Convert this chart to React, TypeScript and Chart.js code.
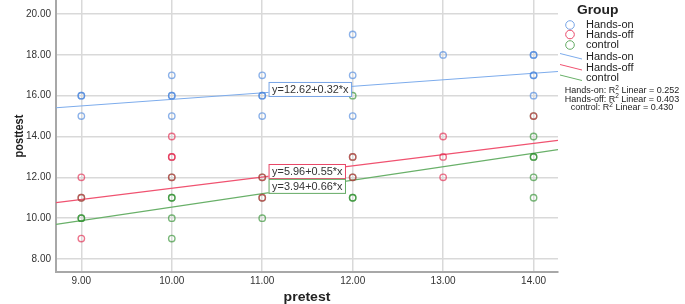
import React, { useEffect, useRef } from "react";
import { Chart, registerables } from "chart.js";

Chart.register(...registerables);

// ---- data ----
const xTicks = [9, 10, 11, 12, 13, 14];
const yTicks = [8, 10, 12, 14, 16, 18, 20];
const groups = ["Hands-on", "Hands-off", "control"];

const handsOnPts: [number, number][] = [
  [9, 16], [9, 16], [9, 15],
  [10, 17], [10, 16], [10, 16], [10, 15],
  [11, 17], [11, 16], [11, 16], [11, 15],
  [12, 19], [12, 17], [12, 15],
  [13, 18],
  [14, 18], [14, 18], [14, 17], [14, 17], [14, 16],
];
const handsOffPts: [number, number][] = [
  [9, 12], [9, 11], [9, 9],
  [10, 14], [10, 13], [10, 13], [10, 12],
  [11, 12], [11, 11],
  [12, 13], [12, 12],
  [13, 14], [13, 13], [13, 12],
  [14, 15],
];
const controlPts: [number, number][] = [
  [9, 11], [9, 10], [9, 10],
  [10, 12], [10, 11], [10, 11], [10, 10], [10, 9],
  [11, 12], [11, 11], [11, 10],
  [12, 16], [12, 13], [12, 12], [12, 11], [12, 11],
  [14, 15], [14, 14], [14, 13], [14, 13], [14, 12], [14, 11],
];
const intercepts = [12.62, 5.96, 3.94];
const slopes = [0.32, 0.55, 0.66];
const r2Values = ["0.252", "0.403", "0.430"];
const fitLabels = ["y=12.62+0.32*x", "y=5.96+0.55*x", "y=3.94+0.66*x"];
const labelAnchorX = 11.07;
const labelAnchorY = [16.33, 12.31, 11.58];

const X_MIN = 8.72;
const X_MAX = 14.27;
const Y_MIN = 7.36;
const Y_MAX = 20.69;

// ---- styles ----
const pointColors = ["rgba(70,130,220,0.62)", "rgba(225,30,70,0.62)", "rgba(40,140,40,0.62)"];
const lineColors = ["rgb(125,172,236)", "rgb(240,82,112)", "rgb(105,176,105)"];
const solidColors = ["rgb(120,165,230)", "rgb(232,72,104)", "rgb(100,170,100)"];
const FONT = "'Liberation Sans', Arial, sans-serif";

function stretchText(ctx: CanvasRenderingContext2D, t: string, x: number, y: number, sx: number) {
  ctx.save();
  ctx.translate(x, y);
  ctx.scale(sx, 1);
  ctx.fillText(t, 0, 0);
  ctx.restore();
}

const overlayPlugin = {
  id: "overlay",
  afterDraw(chart: any) {
    const ctx = chart.ctx as CanvasRenderingContext2D;
    const xs = chart.scales.x;
    const ys = chart.scales.y;
    const area = chart.chartArea;
    ctx.save();

    // fit equation labels
    ctx.font = `10.5px ${FONT}`;
    ctx.textBaseline = "middle";
    ctx.textAlign = "left";
    fitLabels.forEach((t, i) => {
      const x = xs.getPixelForValue(labelAnchorX);
      const y = ys.getPixelForValue(labelAnchorY[i]);
      const w = ctx.measureText(t).width * 1.04 + 6;
      const h = 14;
      ctx.fillStyle = "#fff";
      ctx.fillRect(x, y - h / 2, w, h);
      ctx.strokeStyle = solidColors[i];
      ctx.lineWidth = 1;
      ctx.strokeRect(x + 0.5, y - h / 2 + 0.5, w, h);
      ctx.fillStyle = "#333";
      stretchText(ctx, t, x + 3.5, y + 1, 1.04);
    });

    // axis titles
    ctx.fillStyle = "#222";
    ctx.font = `bold 13px ${FONT}`;
    ctx.textAlign = "center";
    ctx.textBaseline = "middle";
    stretchText(ctx, "pretest", (area.left + area.right) / 2, 297, 1.08);
    ctx.save();
    ctx.translate(20, (area.top + area.bottom) / 2);
    ctx.rotate(-Math.PI / 2);
    ctx.scale(1, 1.15);
    ctx.font = `bold 11px ${FONT}`;
    ctx.fillText("posttest", 0, 0);
    ctx.restore();

    // legend
    const lx = area.right;
    ctx.textAlign = "left";
    ctx.font = `bold 12px ${FONT}`;
    ctx.fillStyle = "#222";
    stretchText(ctx, "Group", lx + 19, 11, 1.15);
    ctx.font = `10px ${FONT}`;
    const markY = [25, 34.5, 45];
    groups.forEach((g, i) => {
      ctx.beginPath();
      ctx.arc(lx + 12, markY[i], 4.3, 0, Math.PI * 2);
      ctx.strokeStyle = solidColors[i];
      ctx.lineWidth = 1;
      ctx.stroke();
      ctx.fillStyle = "#222";
      stretchText(ctx, g, lx + 28, markY[i] + 0.5, 1.1);
    });
    const lineY = [56.5, 67.5, 78];
    groups.forEach((g, i) => {
      ctx.beginPath();
      ctx.moveTo(lx + 2, lineY[i] - 3);
      ctx.lineTo(lx + 24, lineY[i] + 2.5);
      ctx.strokeStyle = lineColors[i];
      ctx.lineWidth = 1;
      ctx.stroke();
      ctx.fillStyle = "#222";
      stretchText(ctx, g, lx + 28, lineY[i] + 0.5, 1.1);
    });
    // R2 lines
    const rY = [91, 99.7, 108];
    const cx = lx + 64;
    groups.forEach((g, i) => {
      const a = `${g}: R`;
      const s = "2";
      const b = ` Linear = ${r2Values[i]}`;
      ctx.font = `9px ${FONT}`;
      const wa = ctx.measureText(a).width;
      const wb = ctx.measureText(b).width;
      ctx.font = `6.5px ${FONT}`;
      const ws = ctx.measureText(s).width;
      const x0 = cx - (wa + ws + wb) / 2;
      ctx.fillStyle = "#222";
      ctx.font = `9px ${FONT}`;
      ctx.fillText(a, x0, rY[i]);
      ctx.font = `6.5px ${FONT}`;
      ctx.fillText(s, x0 + wa, rY[i] - 3);
      ctx.font = `9px ${FONT}`;
      ctx.fillText(b, x0 + wa + ws, rY[i]);
    });
    ctx.restore();
  },
};

function toXY(pts: [number, number][]) {
  return pts.map(([x, y]) => ({ x, y }));
}

export default function App() {
  const ref = useRef<HTMLCanvasElement | null>(null);
  useEffect(() => {
    document.body.style.margin = "0";
    const canvas = ref.current;
    if (!canvas) return;
    const ptsSets = [handsOnPts, handsOffPts, controlPts];
    const scatterSets = ptsSets.map((p, i) => ({
      label: groups[i],
      data: toXY(p),
      showLine: false,
      pointRadius: 3.2,
      pointBorderWidth: 1.4,
      pointBorderColor: pointColors[i],
      pointBackgroundColor: "rgba(0,0,0,0)",
      order: 1,
    }));
    const lineSets = groups.map((g, i) => ({
      label: g + " fit",
      data: [
        { x: X_MIN, y: intercepts[i] + slopes[i] * X_MIN },
        { x: X_MAX, y: intercepts[i] + slopes[i] * X_MAX },
      ],
      showLine: true,
      borderColor: lineColors[i],
      borderWidth: 1.2,
      pointRadius: 0,
      fill: false,
      order: 2,
    }));
    const chart = new Chart(canvas, {
      type: "scatter",
      data: { datasets: [...lineSets, ...scatterSets] as any },
      options: {
        animation: false,
        responsive: false,
        maintainAspectRatio: false,
        layout: { autoPadding: false, padding: { left: 0, right: 127, top: 0, bottom: 0 } },
        plugins: { legend: { display: false }, tooltip: { enabled: false } },
        scales: {
          x: {
            type: "linear",
            min: X_MIN,
            max: X_MAX,
            afterBuildTicks: (s: any) => {
              s.ticks = xTicks.map((v) => ({ value: v }));
            },
            afterFit: (s: any) => {
              s.height = 32;
              s.paddingLeft = 0;
              s.paddingRight = 0;
            },
            ticks: {
              callback: (v: any) => Number(v).toFixed(2),
              font: { family: FONT, size: 10 },
              color: "#333",
              padding: 3,
              maxRotation: 0,
            },
            grid: { color: "#d9d9d9", lineWidth: 1.5, drawTicks: false },
            border: { color: "#a8a8a8", width: 2 },
          },
          y: {
            type: "linear",
            min: Y_MIN,
            max: Y_MAX,
            afterBuildTicks: (s: any) => {
              s.ticks = yTicks.map((v) => ({ value: v }));
            },
            afterFit: (s: any) => {
              s.width = 56;
              s.paddingTop = 0;
              s.paddingBottom = 0;
            },
            ticks: {
              callback: (v: any) => Number(v).toFixed(2),
              font: { family: FONT, size: 10 },
              color: "#333",
              padding: 5,
            },
            grid: { color: "#d9d9d9", lineWidth: 1.5, drawTicks: false },
            border: { color: "#a8a8a8", width: 2 },
          },
        },
      },
      plugins: [overlayPlugin],
    });
    return () => chart.destroy();
  }, []);
  return (
    <div style={{ width: 685, height: 304, background: "#fff" }}>
      <canvas ref={ref} width={685} height={304} />
    </div>
  );
}
